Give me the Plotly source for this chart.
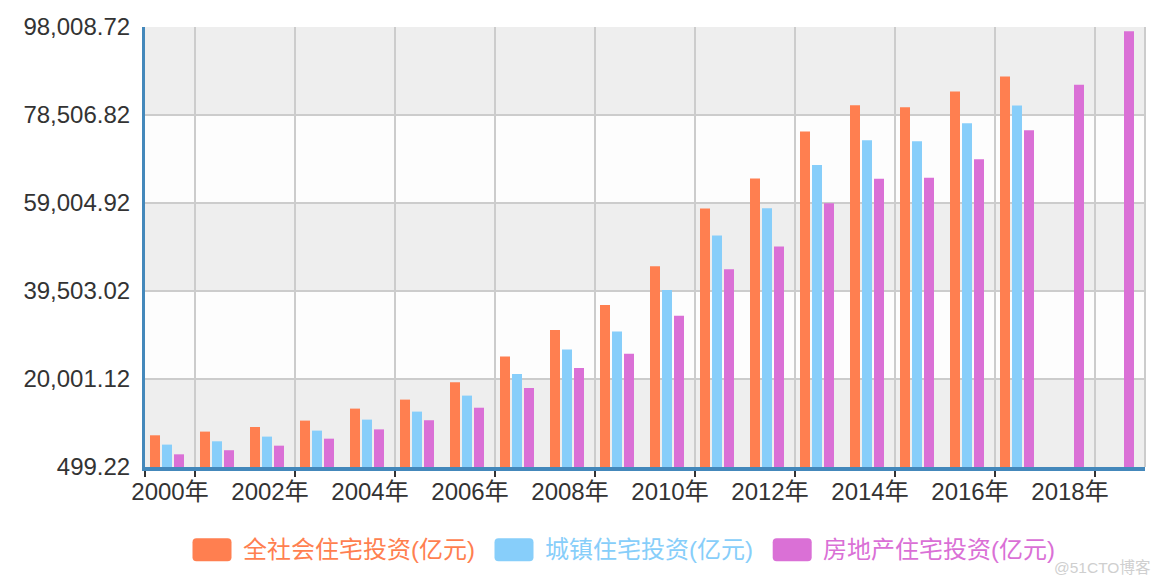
import plotly.graph_objects as go

# ---------------- data ----------------
years = list(range(2000, 2020))
year_labels = [f"{y}年" for y in years]

series_names = ["全社会住宅投资(亿元)", "城镇住宅投资(亿元)", "房地产住宅投资(亿元)"]
series_colors = ["#ff7f50", "#87cefa", "#da70d6"]

total_invest = [7524, 8344, 9363, 10781, 13440, 15435, 19269, 24964, 30858, 36398,
                44974, 57760, 64408, 74824, 80652, 80209, 83688, 87012, None, None]
urban_invest = [5463, 6194, 7236, 8565, 11003, 12776, 16321, 21108, 26515, 30504,
                39722, 51777, 57827, 67422, 72896, 72674, 76663, 80585, None, None]
estate_invest = [3312, 4217, 5228, 6777, 8837, 10861, 13638, 18005, 22441, 25614,
                 34026, 44320, 49374, 58951, 64352, 64595, 68704, 75148, 85192, 97071]

y_ticks = [499.22, 20001.12, 39503.02, 59004.92, 78506.82, 98008.72]
y_ticktext = [f"{v:,.2f}" for v in y_ticks]

label_years = years[::2]
label_text = year_labels[::2]

# ---------------- styles ----------------
FONT = "Liberation Sans, Arial, Noto Sans CJK SC, sans-serif"
bar_offsets = [-0.40, -0.16, 0.08]
bar_width = 0.2

fig = go.Figure()
for name, vals, color, off in zip(series_names,
                                  [total_invest, urban_invest, estate_invest],
                                  series_colors, bar_offsets):
    fig.add_trace(go.Bar(
        x=years, y=vals, name=name, width=bar_width, offset=off,
        marker=dict(color=color, line=dict(width=0)),
        showlegend=False,
    ))

# alternating horizontal bands
shapes = []
for i in range(len(y_ticks) - 1):
    shapes.append(dict(
        type="rect", xref="paper", yref="y", x0=0, x1=1,
        y0=y_ticks[i], y1=y_ticks[i + 1],
        fillcolor="#eeeeee" if i % 2 == 0 else "#fdfdfd",
        line=dict(width=0), layer="below",
    ))
# right border
shapes.append(dict(type="line", xref="paper", yref="paper", x0=1, x1=1, y0=0, y1=1,
                   line=dict(color="#cccccc", width=2), layer="below"))

# manual legend (rounded boxes + coloured text)
legend_box_x = [0.067, 0.369, 0.6472]
legend_text_x = [0.096, 0.398, 0.6757]
legend_y = -0.1882
w, h, r = 19.5, 11.5, 4
rounded = (f"M{-w + r},{-h} L{w - r},{-h} Q{w},{-h} {w},{-h + r} L{w},{h - r} Q{w},{h} {w - r},{h} "
           f"L{-w + r},{h} Q{-w},{h} {-w},{h - r} L{-w},{-h + r} Q{-w},{-h} {-w + r},{-h} Z")
annotations = []
for bx, tx, name, color in zip(legend_box_x, legend_text_x, series_names, series_colors):
    shapes.append(dict(type="path", xref="paper", yref="paper",
                       xsizemode="pixel", ysizemode="pixel",
                       xanchor=bx, yanchor=legend_y, path=rounded,
                       fillcolor=color, line=dict(width=0)))
    annotations.append(dict(xref="paper", yref="paper", x=tx, y=legend_y,
                            xanchor="left", yanchor="middle", showarrow=False,
                            text=name, font=dict(family=FONT, size=24, color=color)))

annotations.append(dict(xref="paper", yref="paper", x=1.007, y=-0.2295,
                        xanchor="right", yanchor="middle", showarrow=False,
                        text="@51CTO博客",
                        font=dict(family=FONT, size=15.5, color="#cfcfcf")))

fig.update_layout(
    width=1162, height=586,
    margin=dict(l=145, r=17, t=27, b=119),
    paper_bgcolor="white", plot_bgcolor="white",
    barmode="overlay",
    shapes=shapes, annotations=annotations,
    font=dict(family=FONT, size=24, color="#333333"),
    xaxis=dict(
        type="linear", range=[1999.5, 2019.5],
        tickmode="array", tickvals=label_years, ticktext=label_text,
        ticks="", showgrid=False, zeroline=False,
        showline=True, linecolor="#4488bb", linewidth=4,
        tickfont=dict(family=FONT, size=24, color="#333333"),
        minor=dict(tickmode="array",
                   tickvals=[1999.5] + [y + 0.5 for y in label_years],
                   ticks="outside", ticklen=6, tickwidth=2, tickcolor="#333333",
                   showgrid=True, gridcolor="#cccccc", gridwidth=2),
    ),
    yaxis=dict(
        range=[y_ticks[0], y_ticks[-1]],
        tickmode="array", tickvals=y_ticks, ticktext=y_ticktext,
        ticks="", showgrid=True, gridcolor="#cccccc", gridwidth=2,
        zeroline=False, showline=True, linecolor="#4488bb", linewidth=3,
        ticklabelstandoff=7,
        tickfont=dict(family=FONT, size=24, color="#333333"),
    ),
)

fig.write_html("out.html")
